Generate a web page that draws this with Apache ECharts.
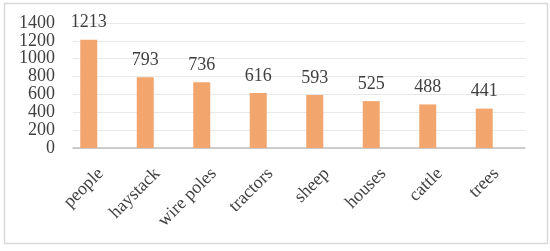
<!DOCTYPE html>
<html><head><meta charset="utf-8">
<script src="https://cdn.jsdelivr.net/npm/echarts@6/dist/echarts.min.js"></script>
<style>html,body{margin:0;padding:0;background:#fff}#c{width:550px;height:251px}</style>
</head><body><div id="c"></div>
<script>
const categories = ['people','haystack','wire poles','tractors','sheep','houses','cattle','trees'];
const counts = [1213,793,736,616,593,525,488,441];
const yMin = 0, yMax = 1400, yStep = 200;

const font = '"Liberation Serif", "Times New Roman", serif';
const txt = '#404040';
const chart = echarts.init(document.getElementById('c'), null, {renderer:'canvas'});
chart.setOption({
  animation:false,
  graphic:[{type:'rect', shape:{x:4.5,y:3.5,width:543,height:240}, style:{fill:'none',stroke:'#d9d9d9',lineWidth:1.5}, z:-1}],
  grid:[
    {left:73, right:25, top:23, height:125},
    {left:60.5, right:37.5, top:23, height:125},
    {left:72.5, right:25.5, top:23, height:125}
  ],
  xAxis:[
    {gridIndex:0, type:'category', data:categories, axisLine:{show:true,lineStyle:{color:'#bfbfbf',width:1.5}}, axisTick:{show:false}, axisLabel:{show:false}, splitLine:{show:false}},
    {gridIndex:1, type:'category', data:categories, axisLine:{show:false}, axisTick:{show:false}, axisLabel:{show:false}},
    {gridIndex:2, type:'category', data:categories, axisLine:{show:false}, axisTick:{show:false},
     axisLabel:{rotate:45, margin:23, fontFamily:font, fontSize:18, color:txt, interval:0}}
  ],
  yAxis:[
    {gridIndex:0, type:'value', min:yMin, max:yMax, interval:yStep,
     axisLine:{show:false}, axisTick:{show:false},
     axisLabel:{margin:18, fontFamily:font, fontSize:18, color:txt, formatter:v=>String(v)},
     splitLine:{lineStyle:{color:'#e8e8e8',width:1}}},
    {gridIndex:1, type:'value', min:yMin, max:yMax, interval:yStep, show:false},
    {gridIndex:2, type:'value', min:yMin, max:yMax, interval:yStep, show:false}
  ],
  series:[{
    type:'bar', xAxisIndex:1, yAxisIndex:1, data:counts, barWidth:17,
    itemStyle:{color:'#F2A56C'},
    label:{show:true, position:'top', distance:8, fontFamily:font, fontSize:18, color:txt}
  }]
});
</script></body></html>
